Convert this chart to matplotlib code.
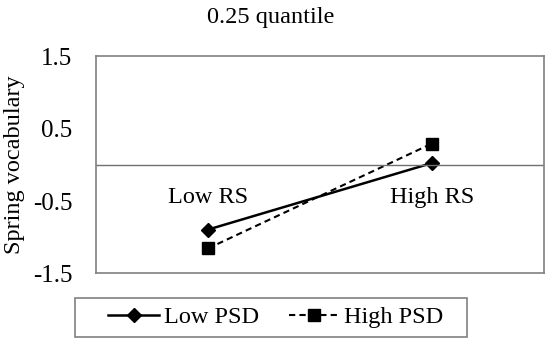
import matplotlib
matplotlib.use("Agg")
import matplotlib.pyplot as plt
from matplotlib.transforms import offset_copy, ScaledTranslation
from matplotlib.patches import Rectangle

categories = ["Low RS", "High RS"]
low_psd = [-0.90, 0.02]
high_psd = [-1.16, 0.29]
yticks = [-1.5, -0.5, 0.5, 1.5]
title = "0.25 quantile"
ylabel = "Spring vocabulary"

plt.rcParams['font.family'] = ['Liberation Serif', 'DejaVu Serif']

fig = plt.figure(figsize=(5.5, 3.42), dpi=100)
ax = fig.add_axes([96/550, 1-273/342, 448/550, 217/342])

xs = [0.5, 1.5]
ax.plot(xs, low_psd, color='black', lw=1.8, marker='D', ms=7, label='Low PSD')
ax.plot(xs, high_psd, color='black', lw=1.5, ls=(0, (3, 2)), marker='s', ms=8, label='High PSD')

ax.set_xlim(0, 2)
ax.set_ylim(-1.5, 1.5)
ax.set_yticks(yticks)
ax.set_yticklabels([f"{v:g}" for v in yticks], fontsize=18, va='center')
ax.set_xticks([])
ax.tick_params(axis='y', length=0, pad=17)
shift = ScaledTranslation(0, -3/100, fig.dpi_scale_trans)
for lab in ax.get_yticklabels():
    lab.set_transform(lab.get_transform() + shift)
for s in ax.spines.values():
    s.set_color('#808080')
    s.set_linewidth(1.2)
ax.axhline(0, color='#707070', lw=1.0)

tr = offset_copy(ax.transData, fig=fig, x=0, y=-33, units='dots')
for x, c in zip(xs, categories):
    ax.text(x, 0, c, transform=tr, ha='center', va='center', fontsize=17.5)

ax.set_ylabel(ylabel, fontsize=17.5)
ax.yaxis.set_label_coords(-0.158, 0.5)
fig.text(271/550, 1-17/342, title, ha='center', va='center', fontsize=17.5)

leg = fig.legend(loc='center', bbox_to_anchor=(276/550, 1-317/342), ncol=2, fontsize=17.5,
                 frameon=False, handlelength=2.1,
                 columnspacing=1.2, borderpad=0.1, handletextpad=0.2)
fig.add_artist(Rectangle((75/550, 1-337/342), 392/550, 39/342, transform=fig.transFigure,
                         fill=False, edgecolor='#808080', lw=1.2))

fig.savefig('out.png', dpi=100)
